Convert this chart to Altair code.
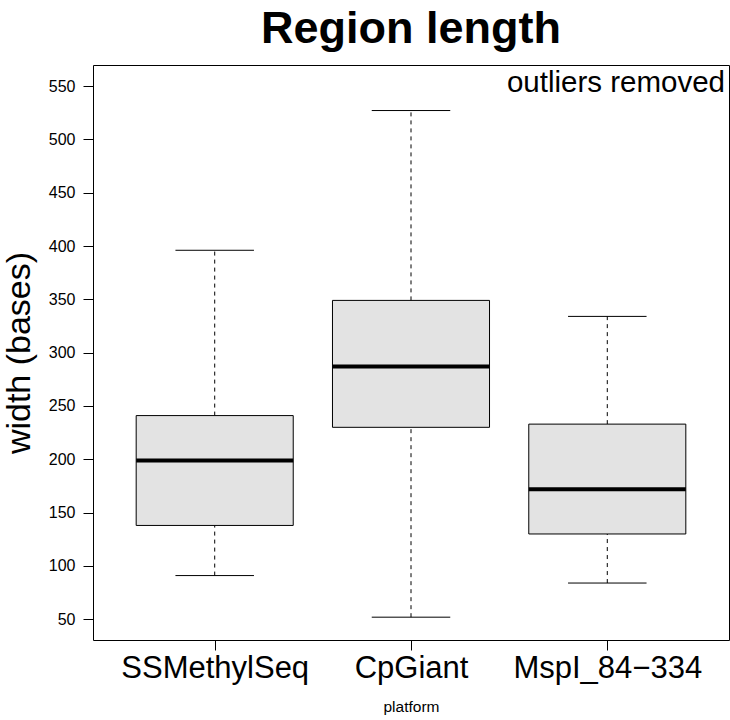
import json
import altair as alt
import pandas as pd

# Summary statistics per platform (whisker ends, quartiles, median)
categories = ["SSMethylSeq", "CpGiant", "MspI_84\u2212334"]
whisker_low = [91, 52, 84]
q1 = [138, 230, 130]
median = [199, 287, 172]
q3 = [241, 349, 233]
whisker_high = [396, 527, 334]

FONT = "Liberation Sans"
BOX_HALF = 0.4   # half box width in category units
CAP_HALF = 0.2   # half whisker-cap width

df = pd.DataFrame({
    "platform": categories,
    "pos": range(1, len(categories) + 1),
    "lo": whisker_low,
    "q1": q1,
    "med": median,
    "q3": q3,
    "hi": whisker_high,
})
df["box_l"] = df["pos"] - BOX_HALF
df["box_r"] = df["pos"] + BOX_HALF
df["cap_l"] = df["pos"] - CAP_HALF
df["cap_r"] = df["pos"] + CAP_HALF

label_expr = json.dumps(categories) + "[datum.value - 1]"

xscale = alt.Scale(domain=[0.38, 3.62], nice=False, zero=False)
yscale = alt.Scale(domain=[30.6, 569.7], nice=False, zero=False)

xaxis = alt.Axis(
    values=[1, 2, 3], labelExpr=label_expr, title="platform",
    labelFontSize=31, labelFont=FONT, labelColor="black", labelPadding=3,
    labelLimit=0,
    titleFontSize=15.5, titleFont=FONT, titleFontWeight="normal",
    titleColor="black", titlePadding=16,
    tickSize=10, tickColor="black", domain=False, grid=False,
)
yaxis = alt.Axis(
    values=list(range(50, 551, 50)), title="width (bases)",
    labelFontSize=16, labelFont=FONT, labelColor="black", labelPadding=8,
    titleFontSize=34, titleFont=FONT, titleFontWeight="normal",
    titleColor="black", titlePadding=12,
    tickSize=10, tickColor="black", domain=False, grid=False,
)

base = alt.Chart(df)

upper_whisker = base.mark_rule(color="black", strokeDash=[4, 4], strokeWidth=1).encode(
    x=alt.X("pos:Q", scale=xscale, axis=xaxis),
    y=alt.Y("q3:Q", scale=yscale, axis=yaxis),
    y2="hi:Q",
)
lower_whisker = base.mark_rule(color="black", strokeDash=[4, 4], strokeWidth=1).encode(
    x="pos:Q", y="lo:Q", y2="q1:Q",
)
upper_cap = base.mark_rule(color="black", strokeWidth=1).encode(
    x="cap_l:Q", x2="cap_r:Q", y="hi:Q",
)
lower_cap = base.mark_rule(color="black", strokeWidth=1).encode(
    x="cap_l:Q", x2="cap_r:Q", y="lo:Q",
)
boxes = base.mark_rect(fill="#e3e3e3", stroke="black", strokeWidth=1).encode(
    x="box_l:Q", x2="box_r:Q", y="q1:Q", y2="q3:Q",
)
medians = base.mark_rule(color="black", strokeWidth=4).encode(
    x="box_l:Q", x2="box_r:Q", y="med:Q",
)

note = alt.Chart(pd.DataFrame({"t": ["outliers removed"]})).mark_text(
    align="right", baseline="alphabetic", fontSize=29.5, font=FONT, color="black",
).encode(text="t:N", x=alt.value(632), y=alt.value(27))

title = alt.Chart(pd.DataFrame({"t": ["Region length"]})).mark_text(
    align="center", baseline="alphabetic", fontSize=45, font=FONT,
    fontWeight="bold", color="black",
).encode(text="t:N", x=alt.value(318), y=alt.value(-22))

chart = (
    alt.layer(upper_whisker, lower_whisker, upper_cap, lower_cap, boxes, medians, note, title)
    .properties(
        width=636, height=575,
        autosize=alt.AutoSizeParams(type="none"),
        padding={"left": 93, "top": 65, "right": 1, "bottom": 80},
        background="white",
    )
    .configure_view(stroke="black", strokeWidth=1)
)

chart.save("out.html", embed_options={"renderer": "svg", "actions": False})
